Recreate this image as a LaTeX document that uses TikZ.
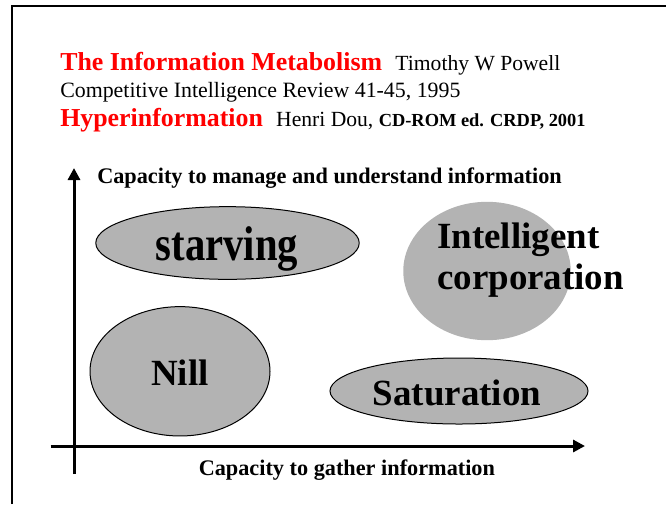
\documentclass[tikz,border=0pt]{standalone}
\usepackage{fontspec}
\setmainfont{Liberation Serif}
\usetikzlibrary{shapes.geometric,arrows.meta}
\definecolor{blobgray}{RGB}{179,179,179}
\begin{document}
\begin{tikzpicture}[x=0.75pt,y=-0.75pt,
  blob/.style={ellipse,fill=blobgray,inner sep=0pt},
  word/.style={font=\fontsize{27.7}{33}\selectfont\bfseries,inner sep=0pt},
  axis/.style={line width=2.25pt,-{Triangle[length=9pt,width=9pt]}},
  axislabel/.style={font=\fontsize{16.7}{20}\selectfont\bfseries,inner sep=0pt,anchor=base west}]
\useasboundingbox (0,0) rectangle (666,504);
\draw [line width=1.5pt] (12,504) -- (12,6) -- (666,6);
\node (title) [anchor=base west,inner sep=0pt] at (60,70)
  {{\color{red}\fontsize{19.4}{23}\selectfont\bfseries The Information Metabolism}\hspace{10pt}{\fontsize{16.2}{20}\selectfont Timothy W Powell}};
\node (journal) [anchor=base west,inner sep=0pt,font=\fontsize{16.4}{20}\selectfont] at (60,97)
  {Competitive Intelligence Review 41-45, 1995};
\node (hyper) [anchor=base west,inner sep=0pt] at (60,126)
  {{\color{red}\fontsize{19.4}{23}\selectfont\bfseries Hyperinformation}\hspace{10pt}{\fontsize{16.2}{20}\selectfont Henri Dou, \fontsize{13.8}{16}\selectfont\bfseries CD-ROM ed. CRDP, 2001}};
\coordinate (ybot) at (74,474);
\coordinate (ytop) at (74,168);
\coordinate (xleft) at (50.7,446);
\coordinate (xright) at (585,446);
\draw [axis] (ybot) -- (ytop);
\draw [axis] (xleft) -- (xright);
\node (ylabel) [axislabel] at (97,183) {Capacity to manage and understand information};
\node (xlabel) [axislabel] at (198.5,475) {Capacity to gather information};
\node (starving) [blob,draw,line width=0.75pt,minimum width=197.6pt,minimum height=54.5pt] at (227.5,243) {};
\node (intelligent) [blob,minimum width=125.6pt,minimum height=103.8pt] at (487,271) {};
\node (nill) [blob,draw,line width=0.75pt,minimum width=135pt,minimum height=97pt] at (180,371.3) {};
\node (saturation) [blob,draw,line width=0.75pt,minimum width=193.5pt,minimum height=49.5pt] at (459,391) {};
\node (starvingtxt) [word,anchor=base,font=\fontsize{30.5}{36}\selectfont\bfseries] at (227,260) {\scalebox{1}[1.2]{starving}};
\node (intelligenttxt) [word,anchor=base west] at (437,248.5) {Intelligent};
\node (corporationtxt) [word,anchor=base west] at (437,289) {corporation};
\node (nilltxt) [word,anchor=base] at (180,385) {Nill};
\node (saturationtxt) [word,anchor=base] at (457,405) {Saturation};
\end{tikzpicture}
\end{document}
